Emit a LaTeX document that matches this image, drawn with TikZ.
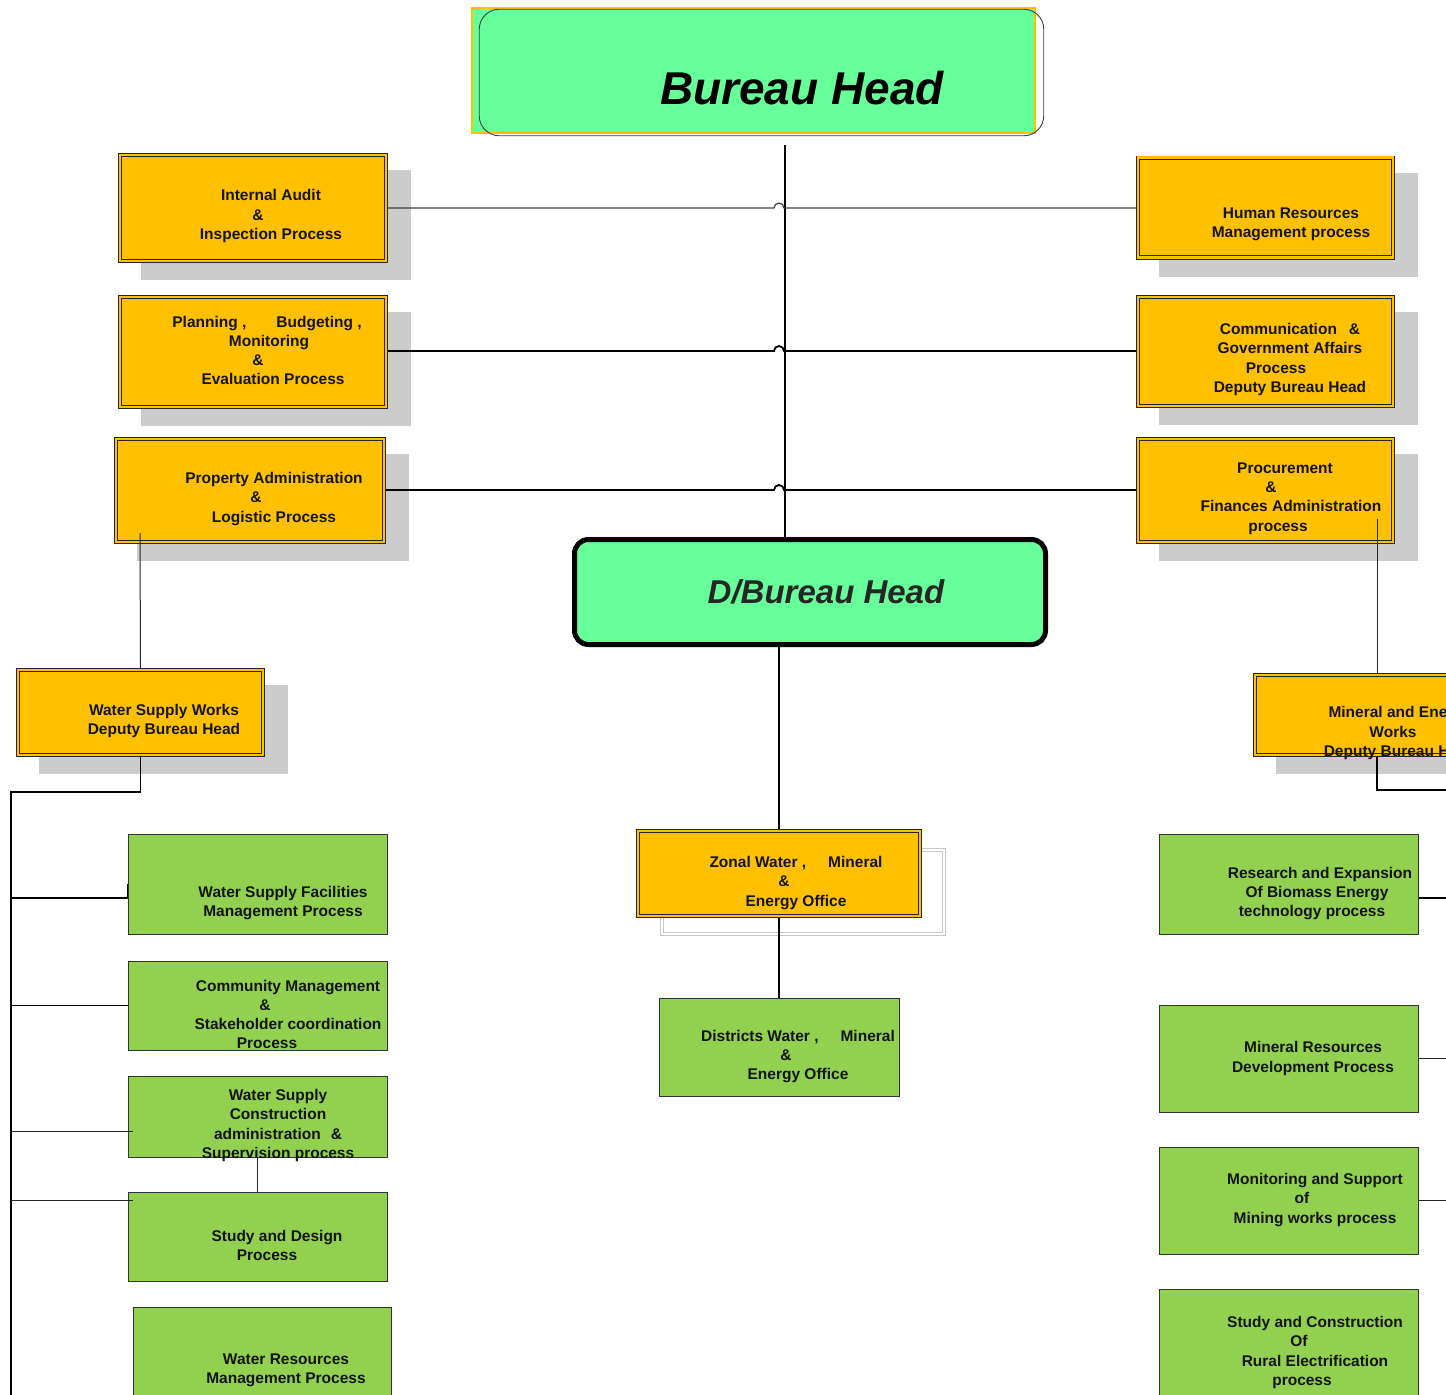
\documentclass[tikz,border=0pt]{standalone}
\usepackage{fontspec}
\setmainfont{Liberation Sans}
\usetikzlibrary{backgrounds}
\definecolor{boxorange}{HTML}{FFC000}
\definecolor{headgreen}{HTML}{66FF99}
\definecolor{procgreen}{HTML}{92D050}
\definecolor{shgrey}{HTML}{CCCCCC}
\begin{document}
\begin{tikzpicture}[x=1pt,y=-1pt,
  ob/.style={draw=black!85, double=boxorange, double distance=2.6pt, line width=0.8pt, fill=boxorange, outer sep=2.1pt, inner sep=0pt},
  gb/.style={draw=black!80, line width=1pt, fill=procgreen, inner sep=0pt},
  tx/.style={font=\fontsize{15.5}{19.2}\selectfont\bfseries, align=center, inner sep=0pt, text=black!92, yshift=-6.5pt},
  cthin/.style={draw=black!85, line width=1pt},
  cthick/.style={draw=black, line width=1.8pt},
]
\useasboundingbox (0,0) rectangle (1446,1395);
\begin{scope}
\clip (0,0) rectangle (1446,1395);

% ---------- top heads ----------
\node[draw=boxorange, line width=1.5pt, fill=headgreen, minimum width=563pt, minimum height=125pt, inner sep=0pt] (bh) at (753.5,70.5) {};
\draw[black!75, line width=0.9pt, rounded corners=20pt] ([shift={(8,2)}]bh.north west) rectangle ([shift={(8,2)}]bh.south east);
\node[anchor=base, inner sep=0pt, font=\fontsize{46}{50}\selectfont\bfseries\itshape] (bht) at (802,104) {Bureau Head};

\node[draw=black, line width=5pt, fill=headgreen, rounded corners=14pt, minimum width=471pt, minimum height=105pt, inner sep=0pt] (dbh) at (810,592) {};
\node[anchor=base, inner sep=0pt, text=black!85, font=\fontsize{33}{36}\selectfont\bfseries\itshape] (dbht) at (826,603) {D/Bureau Head};

% ---------- orange boxes ----------
\node[ob, minimum width=265.8pt, minimum height=105.8pt] (ia) at (253,208) {};
\node[ob, minimum width=265.8pt, minimum height=109.8pt] (pb) at (253,352) {};
\node[ob, minimum width=267.8pt, minimum height=102.8pt] (pa) at (250,490.5) {};
\node[ob, minimum width=254.8pt, minimum height=99.8pt] (hr) at (1265.5,207.5) {};
\node[ob, minimum width=254.8pt, minimum height=108.8pt] (cg) at (1265.5,351.5) {};
\node[ob, minimum width=254.8pt, minimum height=102.8pt] (pf) at (1265.5,490.5) {};
\node[ob, minimum width=244.8pt, minimum height=84.8pt] (wsw) at (140.5,712.5) {};
\node[ob, minimum width=267.8pt, minimum height=79.8pt] (mew) at (1389,715) {};
\node[ob, minimum width=281.8pt, minimum height=84.8pt] (zn) at (779,873.5) {};

% ---------- green boxes ----------
\node[gb, minimum width=259pt, minimum height=100pt] (wsf) at (257.5,884) {};
\node[gb, minimum width=259pt, minimum height=89pt] (cm) at (257.5,1005.5) {};
\node[gb, minimum width=259pt, minimum height=81pt] (wsc) at (257.5,1116.5) {};
\node[gb, minimum width=259pt, minimum height=89pt] (sd) at (257.5,1236.5) {};
\node[gb, minimum width=258pt, minimum height=113pt] (wr) at (262,1363.5) {};
\node[gb, minimum width=259pt, minimum height=100pt] (rs) at (1288.5,884) {};
\node[gb, minimum width=259pt, minimum height=107pt] (mr) at (1288.5,1058.5) {};
\node[gb, minimum width=259pt, minimum height=107pt] (ms) at (1288.5,1200.5) {};
\node[gb, minimum width=259pt, minimum height=131pt] (sc) at (1288.5,1354.5) {};
\node[gb, minimum width=240pt, minimum height=98pt] (dw) at (779,1047) {};

% ---------- shadows and ghost outline ----------
\begin{pgfonlayer}{background}
  \foreach \n in {ia,pb,pa,hr,cg,pf,wsw,mew}
    \fill[shgrey] ([shift={(23,17)}]\n.south west) rectangle ([shift={(23,17)}]\n.north east);
  \draw[black!22, double=white, double distance=2.5pt, line width=0.8pt] (662,850) rectangle (944,934);
\end{pgfonlayer}

% ---------- texts ----------
\node[tx] (iat) at (271,209.5) {Internal Audit\\ \hspace*{-26pt}\&\\ Inspection Process};
\node[tx] (pbt) at (269,344) {\hspace*{-4pt}Planning ,\hspace{30pt}Budgeting ,\\ Monitoring\\ \hspace*{-22pt}\&\\ \hspace*{8pt}Evaluation Process};
\node[tx] (pat) at (274,492.5) {Property Administration\\ \hspace*{-36pt}\&\\ Logistic Process};
\node[tx] (hrt) at (1291,217.5) {Human Resources\\ Management process};
\node[tx] (cgt) at (1290,353) {Communication\hspace{12pt}\&\\ Government Affairs\\ \hspace*{-28pt}Process\\ Deputy Bureau Head};
\node[tx] (pft) at (1291,492) {\hspace*{-12pt}Procurement\\ \hspace*{-40pt}\&\\ Finances Administration\\ \hspace*{-26pt}process};
\node[tx] (mewt) at (1400,726.5) {Mineral and Energy\\ \hspace*{-14pt}Works\\ Deputy Bureau Head};
\node[tx] (wswt) at (164,714.5) {Water Supply Works\\ Deputy Bureau Head};
\node[tx] (znt) at (796,876.5) {Zonal Water ,\hspace{22pt}Mineral\\ \hspace*{-24pt}\&\\ Energy Office};
\node[tx] (dwt) at (798,1050) {Districts Water ,\hspace{22pt}Mineral\\ \hspace*{-24pt}\&\\ Energy Office};
\node[tx] (wsft) at (283,896.5) {Water Supply Facilities\\ Management Process};
\node[tx] (cmt) at (288,1008) {Community Management\\ \hspace*{-46pt}\&\\ Stakeholder coordination\\ \hspace*{-42pt}Process};
\node[tx] (wsct) at (278,1119) {Water Supply\\ Construction\\ administration\hspace{10pt}\&\\ Supervision process};
\node[tx] (sdt) at (277,1239) {Study and Design\\ \hspace*{-20pt}Process};
\node[tx] (wrt) at (286,1363.5) {Water Resources\\ Management Process};
\node[tx] (rst) at (1317,887) {\hspace*{6pt}Research and Expansion\\ Of Biomass Energy\\ \hspace*{-10pt}technology process};
\node[tx] (mrt) at (1313,1052) {Mineral Resources\\ Development Process};
\node[tx] (mst) at (1315,1193.5) {Monitoring and Support\\ \hspace*{-26pt}of\\ Mining works process};
\node[tx] (sct) at (1315,1346) {Study and Construction\\ \hspace*{-32pt}Of\\ Rural Electrification\\ \hspace*{-26pt}process};

% ---------- connector coordinates ----------
\coordinate (bhv) at (785,145);
\coordinate (j1) at (774,208);
\coordinate (j2) at (774,351);
\coordinate (j3) at (774,490);
\coordinate (pa1) at (140,533);
\coordinate (pf1) at (1377,519);
\coordinate (mew1) at (1377,790);
\coordinate (mewr) at (1460,790);
\coordinate (wb1) at (140.5,792);
\coordinate (wb2) at (11,792);
\coordinate (wb3) at (11,1400);
\coordinate (b1) at (11,898);
\coordinate (b2) at (11,1005.5);
\coordinate (b3) at (11,1131);
\coordinate (b4) at (11,1200);
\coordinate (rr1) at (1460,898);

% ---------- connectors ----------
\draw[cthick, line width=1.6pt] (bhv) -- (bhv |- dbh.north);
\draw[cthin, draw=black!75, line width=1.2pt] (ia.east |- j1) -- (j1) arc[start angle=180, end angle=0, radius=5pt] -- (hr.west |- j1);
\draw[cthick] (pb.east |- j2) -- (j2) arc[start angle=180, end angle=0, radius=5pt] -- (cg.west |- j2);
\draw[cthick] (pa.east |- j3) -- (j3) arc[start angle=180, end angle=0, radius=5pt] -- (pf.west |- j3);
\draw[cthin] (pa1) -- (wsw.north);
\draw[cthin] (pf1) -- (pf1 |- mew.north);
\draw[cthick] (mew1 |- mew.south) -- (mew1) -- (mewr);
\draw[cthick] (wsw.south) -- (wb1) -- (wb2) -- (wb3);
\draw[cthick] (b1) -- (b1 -| wsf.west) -- (wsf.west);
\draw[cthick] (b2) -- (cm.west);
\draw[cthin] (b3) -- ([xshift=5pt]b3 -| wsc.west);
\draw[cthin] (b4) -- ([xshift=5pt]b4 -| sd.west);
\draw[cthin] (wsc.south) -- (sd.north);
\draw[cthick] (zn.north |- dbh.south) -- (zn.north);
\draw[cthick] (zn.south) -- (dw.north);
\draw[cthick] (rs.east |- rr1) -- (rr1);
\draw[cthin] (mr.east) -- (mr.east -| rr1);
\draw[cthin] (ms.east) -- (ms.east -| rr1);
\end{scope}
\end{tikzpicture}
\end{document}
